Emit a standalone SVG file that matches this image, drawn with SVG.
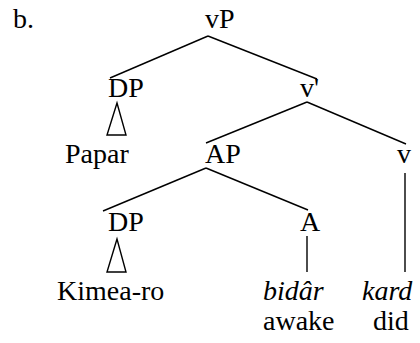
<svg xmlns="http://www.w3.org/2000/svg" width="420" height="343" viewBox="0 0 420 343">
<style>
text{font-family:"Liberation Serif","Times New Roman",serif;font-size:28px;fill:#000}
.it{font-style:italic}
.e{stroke:#000;stroke-width:1.4;fill:none;stroke-linecap:butt}
</style>
<rect width="420" height="343" fill="#fff"/>
<text x="13" y="28">b.</text>
<g id="connectors" class="e">
<line x1="208" y1="36" x2="110" y2="78"/>
<line x1="208" y1="36" x2="317" y2="79"/>
<line x1="307" y1="102" x2="206" y2="143"/>
<line x1="307" y1="102" x2="406" y2="144"/>
<line x1="206" y1="168" x2="103" y2="211"/>
<line x1="206" y1="168" x2="308" y2="210"/>
<line x1="307" y1="236" x2="307" y2="272"/>
<line x1="405" y1="173" x2="405" y2="272"/>
<polygon points="117,103 107,135 126,135"/>
<polygon points="117,239 107,272 126,272"/>
</g>
<g id="vP"><text x="205" y="28">vP</text></g>
<g id="DP1"><text x="108" y="97">DP</text></g>
<g id="vbar"><text x="300" y="97">v'</text></g>
<g id="Papar"><text x="65" y="163">Papar</text></g>
<g id="AP"><text x="205" y="163">AP</text></g>
<g id="v"><text x="397" y="163">v</text></g>
<g id="DP2"><text x="108" y="231">DP</text></g>
<g id="A"><text x="300" y="231">A</text></g>
<g id="Kimea-ro"><text x="57" y="300">Kimea-ro</text></g>
<g id="bidar"><text class="it" x="263" y="300">bidâr</text><text x="263" y="330">awake</text></g>
<g id="kard"><text class="it" x="362" y="300">kard</text><text x="373" y="330">did</text></g>
</svg>
